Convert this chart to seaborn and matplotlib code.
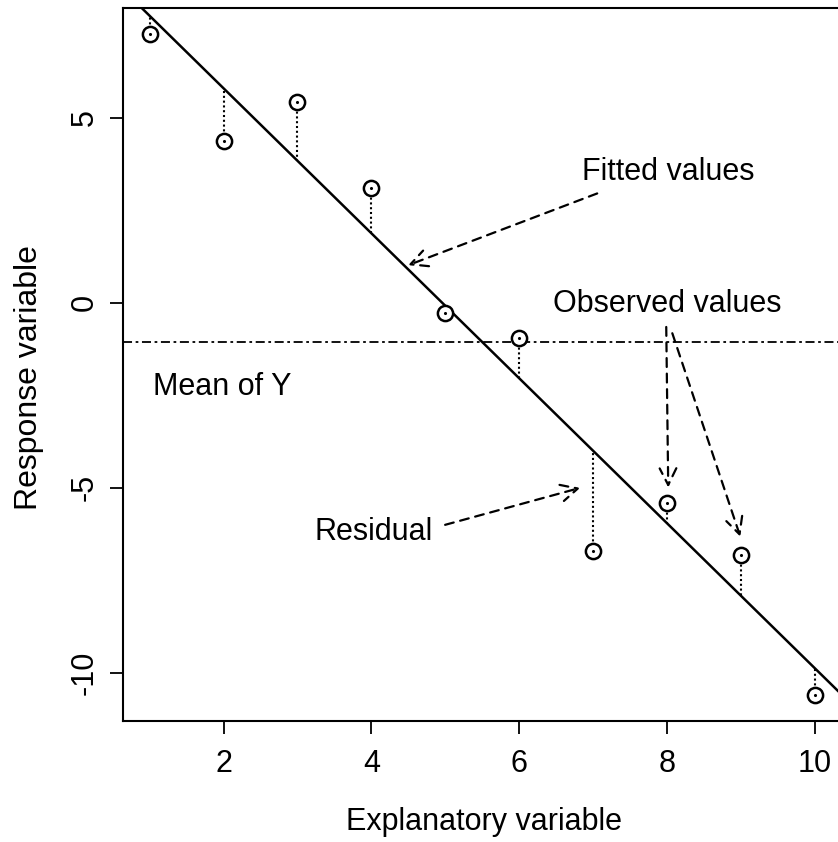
import numpy as np
import pandas as pd
import matplotlib
matplotlib.use("Agg")
import matplotlib.pyplot as plt
import seaborn as sns

# ---- data ----
x_values = [1, 2, 3, 4, 5, 6, 7, 8, 9, 10]
y_values = [7.26, 4.39, 5.42, 3.11, -0.27, -0.95, -6.72, -5.42, -6.82, -10.59]
x_ticks = [2, 4, 6, 8, 10]
y_ticks = [-10, -5, 0, 5]
x_label = "Explanatory variable"
y_label = "Response variable"

sns.set_theme(style="ticks")
plt.rcParams["font.family"] = ["Liberation Sans", "DejaVu Sans"]
plt.rcParams["text.color"] = "black"
plt.rcParams["axes.labelcolor"] = "black"
plt.rcParams["xtick.color"] = "black"
plt.rcParams["ytick.color"] = "black"

df = pd.DataFrame({"x": x_values, "y": y_values})
slope, intercept = np.polyfit(df["x"], df["y"], 1)
df["fitted"] = intercept + slope * df["x"]
y_mean = df["y"].mean()

fig = plt.figure(figsize=(8.38, 8.42), dpi=100)
ax = fig.add_axes([0.1468, 0.1437, 0.8575, 0.8468])

# R-style 4% range extension
xr = df["x"].max() - df["x"].min()
yr = df["y"].max() - df["y"].min()
xlim = (df["x"].min() - 0.04 * xr, df["x"].max() + 0.04 * xr)
ylim = (df["y"].min() - 0.04 * yr, df["y"].max() + 0.04 * yr)

# regression line
ax.axline((0, intercept), slope=slope, color="black", lw=1.8, zorder=3)
# mean line
ax.axhline(y_mean, color="black", lw=1.3, linestyle=(0, (5, 2, 1.5, 2)), zorder=2)
# residuals
ax.vlines(df["x"], df["y"], df["fitted"], colors="black", linestyles=(0, (1, 1.3)), lw=1.5, zorder=2)

# points
sns.scatterplot(data=df, x="x", y="y", ax=ax, marker="o", s=120,
                facecolor="white", edgecolor="black", linewidth=1.8, zorder=4, legend=False)
sns.scatterplot(data=df, x="x", y="y", ax=ax, marker="o", s=5,
                color="black", linewidth=0, zorder=5, legend=False)

ax.set_xlim(*xlim)
ax.set_ylim(*ylim)
ax.set_xticks(x_ticks)
ax.set_yticks(y_ticks)
ax.set_xticklabels([str(t) for t in x_ticks])
ax.set_yticklabels([str(t) for t in y_ticks])

fs = 22
ax.tick_params(axis="both", direction="out", length=9.5, width=1.3, colors="black", labelsize=fs)
ax.tick_params(axis="x", pad=11)
ax.tick_params(axis="y", pad=7, labelrotation=90)
for lab in ax.get_yticklabels():
    lab.set_va("center")

for sp in ax.spines.values():
    sp.set_visible(True)
    sp.set_linewidth(1.5)
    sp.set_color("black")

ax.set_xlabel(x_label, fontsize=fs)
ax.set_ylabel(y_label, fontsize=23)
ax.xaxis.set_label_coords(0.502, -0.1206)
ax.yaxis.set_label_coords(-0.1106, 0.481)

# annotations
arrow_kw = dict(arrowstyle="->", lw=1.6, linestyle=(0, (4, 3)), color="black",
                shrinkA=0, shrinkB=0, mutation_scale=30)
ax.text(8.015, 3.31, "Fitted values", fontsize=fs, ha="center", va="baseline")
ax.annotate("", xy=(4.497, 1.02), xytext=(7.054, 2.96), arrowprops=arrow_kw)

ax.text(8.0, -0.25, "Observed values", fontsize=fs, ha="center", va="baseline")
ax.annotate("", xy=(8.015, -4.99), xytext=(7.988, -0.65), arrowprops=arrow_kw)
ax.annotate("", xy=(8.99, -6.32), xytext=(8.07, -0.82), arrowprops=arrow_kw)

ax.text(1.046, -2.49, "Mean of Y", fontsize=fs, ha="left", va="baseline")

ax.text(4.03, -6.40, "Residual", fontsize=fs, ha="center", va="baseline")
ax.annotate("", xy=(6.824, -5.00), xytext=(4.997, -6.00), arrowprops=arrow_kw)

fig.savefig("out.png", dpi=100, facecolor="white")
